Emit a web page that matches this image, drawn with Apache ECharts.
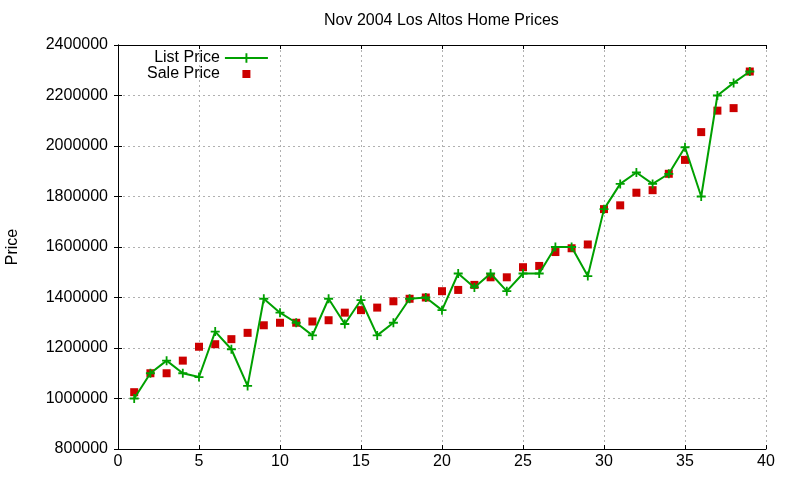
<!DOCTYPE html>
<html>
<head>
<meta charset="utf-8">
<script src="https://cdn.jsdelivr.net/npm/echarts@6/dist/echarts.min.js"></script>
<style>html,body{margin:0;padding:0;background:#fff}#c{width:800px;height:480px}</style>
</head>
<body>
<div id="c"></div>
<script>
var weeks = [1,2,3,4,5,6,7,8,9,10,11,12,13,14,15,16,17,18,19,20,21,22,23,24,25,26,27,28,29,30,31,32,33,34,35,36,37,38,39];
var listPrice = [1000000,1100000,1150000,1100000,1085000,1265000,1195000,1050000,1395000,1340000,
  1300000,1250000,1395000,1295000,1390000,1250000,1300000,1395000,1400000,1350000,
  1495000,1440000,1495000,1425000,1495000,1495000,1600000,1600000,1485000,1750000,
  1850000,1895000,1850000,1890000,1995000,1800000,2200000,2250000,2295000];
var salePrice = [1025000,1100000,1100000,1150000,1205000,1215000,1235000,1260000,1290000,1300000,
  1300000,1305000,1310000,1340000,1350000,1360000,1385000,1395000,1400000,1425000,
  1430000,1450000,1480000,1480000,1520000,1525000,1580000,1595000,1610000,1750000,
  1765000,1815000,1825000,1890000,1945000,2055000,2140000,2150000,2295000];
var titleText = 'Nov 2004 Los Altos Home Prices';
var yName = 'Price';
var seriesNames = ['List Price', 'Sale Price'];

var FONT = 'Liberation Sans, Arial, sans-serif';
var listData = weeks.map(function (w, i) { return [w, listPrice[i]]; });
var saleData = weeks.map(function (w, i) { return [w, salePrice[i]]; });

var chart = echarts.init(document.getElementById('c'), null, {renderer: 'canvas'});
var gridLine = {show: true, lineStyle: {color: '#b0b0b0', width: 1, type: [2, 3]}};
var tick = {show: true, inside: true, length: 4, lineStyle: {color: '#000', width: 1}};
var axLine = {show: true, lineStyle: {color: '#000', width: 1}};
chart.setOption({
  animation: false,
  backgroundColor: '#fff',
  title: {
    text: titleText, left: 324, top: 13, padding: 0,
    textStyle: {fontFamily: FONT, fontSize: 16, fontWeight: 'normal', color: '#000'}
  },
  legend: {
    orient: 'vertical', align: 'right', left: 147, top: 50, padding: 0,
    itemWidth: 43, itemHeight: 12, itemGap: 0,
    textStyle: {fontFamily: FONT, fontSize: 16, color: '#000', lineHeight: 14},
    data: [
      {name: seriesNames[0]},
      {name: seriesNames[1], icon: 'path://M0,0L0.01,0Z M43,12L43.01,12Z M17.5,2h8v8h-8z'}
    ]
  },
  grid: {left: 118, right: 34, top: 45, bottom: 31, outerBoundsMode: 'none'},
  xAxis: [{
    type: 'value', min: 0, max: 40, interval: 5, position: 'bottom',
    axisLine: axLine, axisTick: tick, splitLine: gridLine,
    axisLabel: {fontFamily: FONT, fontSize: 16, color: '#000', margin: 5}
  }, {
    type: 'value', min: 0, max: 40, interval: 5, position: 'top',
    axisLine: axLine, axisTick: tick, splitLine: {show: false}, axisLabel: {show: false}
  }],
  yAxis: [{
    type: 'value', min: 800000, max: 2400000, interval: 200000, position: 'left',
    name: yName, nameLocation: 'middle', nameRotate: 90, nameGap: 97,
    nameTextStyle: {fontFamily: FONT, fontSize: 16, color: '#000'},
    axisLine: axLine, axisTick: tick, splitLine: gridLine,
    axisLabel: {fontFamily: FONT, fontSize: 16, color: '#000', margin: 10,
      formatter: function (v) { return String(v); }}
  }, {
    type: 'value', min: 800000, max: 2400000, interval: 200000, position: 'right',
    axisLine: axLine, axisTick: tick, splitLine: {show: false}, axisLabel: {show: false}
  }],
  series: [{
    name: seriesNames[0], type: 'line', data: listData,
    xAxisIndex: 0, yAxisIndex: 0,
    symbol: 'path://M4,0h2v10h-2z M0,4h10v2h-10z', symbolSize: 9,
    showAllSymbol: true,
    lineStyle: {color: '#00a000', width: 2},
    itemStyle: {color: '#00a000', opacity: 1},
    emphasis: {disabled: true}
  }, {
    name: seriesNames[1], type: 'scatter', data: saleData,
    xAxisIndex: 0, yAxisIndex: 0,
    symbol: 'rect', symbolSize: 8,
    itemStyle: {color: '#cc0000', opacity: 1},
    emphasis: {disabled: true}
  }]
});
</script>
</body>
</html>
